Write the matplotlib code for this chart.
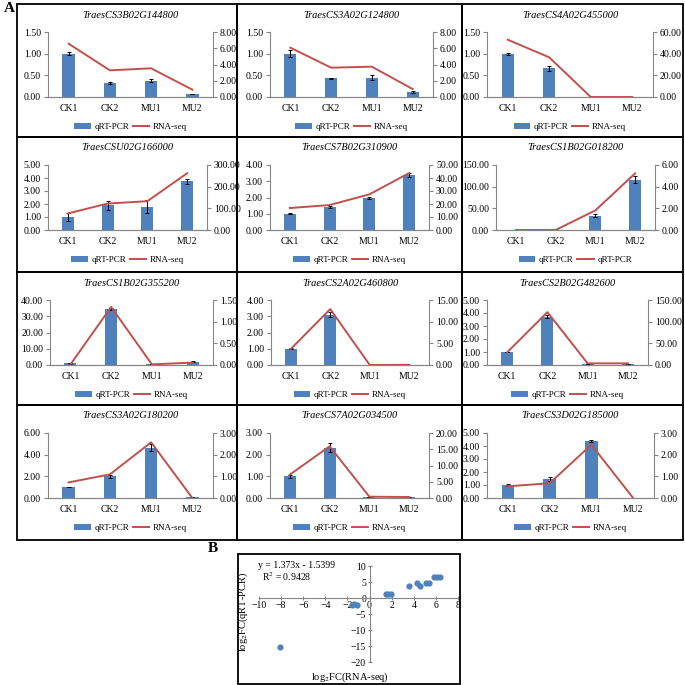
import numpy as np
import matplotlib.pyplot as plt
from matplotlib.patches import Rectangle, Patch
from matplotlib.lines import Line2D
from matplotlib.ticker import FormatStrFormatter

plt.rcParams['font.family'] = ['Liberation Serif', 'DejaVu Serif']
plt.rcParams['mathtext.fontset'] = 'stix'

# --- data ---
categories = ['CK1', 'CK2', 'MU1', 'MU2']
genes = ['TraesCS3B02G144800', 'TraesCS3A02G124800', 'TraesCS4A02G455000',
         'TraesCSU02G166000', 'TraesCS7B02G310900', 'TraesCS1B02G018200',
         'TraesCS1B02G355200', 'TraesCS2A02G460800', 'TraesCS2B02G482600',
         'TraesCS3A02G180200', 'TraesCS7A02G034500', 'TraesCS3D02G185000']

qpcr = [
    [1.00, 0.32, 0.38, 0.07],
    [1.00, 0.43, 0.45, 0.12],
    [1.00, 0.66, 0.00, 0.00],
    [1.00, 1.90, 1.80, 3.75],
    [1.00, 1.42, 1.98, 3.38],
    [1.00, 0.30, 33.0, 116.0],
    [1.00, 34.5, 0.80, 2.10],
    [1.00, 3.10, 0.00, 0.02],
    [1.00, 3.72, 0.10, 0.08],
    [1.00, 2.00, 4.65, 0.05],
    [1.00, 2.33, 0.05, 0.03],
    [1.00, 1.45, 4.42, 0.00],
]
qpcr_err = [
    [0.04, 0.03, 0.04, 0.01],
    [0.08, 0.01, 0.06, 0.03],
    [0.02, 0.05, 0.00, 0.00],
    [0.30, 0.35, 0.50, 0.20],
    [0.03, 0.04, 0.05, 0.10],
    [0.10, 0.05, 4.00, 8.00],
    [0.20, 0.80, 0.10, 0.30],
    [0.03, 0.15, 0.00, 0.01],
    [0.02, 0.10, 0.02, 0.02],
    [0.03, 0.12, 0.30, 0.01],
    [0.06, 0.22, 0.01, 0.01],
    [0.05, 0.15, 0.08, 0.00],
]
rnaseq = [
    [6.56, 3.28, 3.53, 0.90],
    [6.07, 3.61, 3.73, 0.98],
    [52.9, 36.6, 0.0, 0.0],
    [76.5, 122.0, 133.0, 262.0],
    [16.9, 19.2, 27.4, 43.8],
    [0.0, 0.0, 1.81, 5.23],
    [0.01, 1.34, 0.015, 0.055],
    [3.69, 12.9, 0.0, 0.05],
    [29.2, 122.0, 3.8, 3.8],
    [0.72, 1.09, 2.57, 0.0],
    [7.2, 15.9, 0.4, 0.3],
    [0.54, 0.68, 2.46, 0.0],
]
# (max, step) of left and right axes
left_axis = [(1.5, 0.5), (1.5, 0.5), (1.5, 0.5), (5, 1), (4, 1), (150, 50),
             (40, 10), (4, 1), (5, 1), (6, 2), (3, 1), (5, 1)]
right_axis = [(8, 2), (8, 2), (60, 20), (300, 100), (50, 10), (6, 2),
              (1.5, 0.5), (15, 5), (150, 50), (3, 1), (20, 5), (3, 1)]
line_labels = ['RNA-seq'] * 5 + ['qRT-PCR'] + ['RNA-seq'] * 6

# panel B
rna_fc = [-8.1, -1.6, -1.4, -1.1, 1.5, 1.7, 1.9, 3.6, 4.3, 4.6, 5.1, 5.4, 5.8, 6.1, 6.4]
qpcr_fc = [-15.2, -2.1, -2.0, -2.1, 1.2, 1.2, 1.2, 3.9, 4.6, 3.7, 4.6, 4.8, 6.5, 6.7, 6.6]

W = H = 685
BLUE = '#4F81BD'
RED = '#C0504D'
GREY = '#868686'


def fx(px):
    return px / W


def fy(py):
    return 1 - py / H


fig = plt.figure(figsize=(6.85, 6.85), dpi=100)

col_edges = [17, 237, 462, 683]
row_edges = [4, 137, 272, 405, 540]
# left / right spine of every plot area, in pixels
plot_lr = [(48, 213), (270, 433), (487, 653),
           (48, 207), (270, 429), (496, 655),
           (50, 213), (271, 429), (487, 648),
           (48, 213), (270, 429), (487, 654)]

for i, gene in enumerate(genes):
    r, c = divmod(i, 3)
    x0, x1 = col_edges[c], col_edges[c + 1]
    y0, y1 = row_edges[r], row_edges[r + 1]

    # cell border
    fig.add_artist(Rectangle((fx(x0), fy(y1)), (x1 - x0) / W, (y1 - y0) / H,
                             transform=fig.transFigure, fill=False,
                             edgecolor='black', lw=1.3))

    ax_l, ax_r = plot_lr[i]
    ax = fig.add_axes([fx(ax_l), fy(y0 + 93), (ax_r - ax_l) / W, 65 / H])
    x = np.arange(len(categories))
    ax.bar(x, qpcr[i], 0.3, color=BLUE, yerr=qpcr_err[i],
           error_kw=dict(ecolor='black', elinewidth=0.7, capsize=1.5, capthick=0.7))
    ax.set_xlim(-0.5, 3.5)
    lmax, lstep = left_axis[i]
    ax.set_ylim(0, lmax)
    ax.set_yticks(np.arange(0, lmax + lstep / 2, lstep))
    ax.yaxis.set_major_formatter(FormatStrFormatter('%.2f'))
    ax.set_xticks(x)
    ax.set_xticklabels(categories)

    ax2 = ax.twinx()
    ax2.plot(x, rnaseq[i], color=RED, lw=1.4)
    rmax, rstep = right_axis[i]
    ax2.set_ylim(0, rmax)
    ax2.set_yticks(np.arange(0, rmax + rstep / 2, rstep))
    ax2.yaxis.set_major_formatter(FormatStrFormatter('%.2f'))

    for a in (ax, ax2):
        for s in a.spines.values():
            s.set_color(GREY)
            s.set_linewidth(0.8)
        a.spines['top'].set_visible(False)
    ax.spines['right'].set_visible(False)
    ax2.spines['left'].set_visible(False)
    ax.tick_params(axis='y', direction='out', length=3, color=GREY, labelsize=7, pad=2)
    ax2.tick_params(axis='y', direction='out', length=3, color=GREY, labelsize=7, pad=2)
    ax.tick_params(axis='x', length=0, labelsize=7, pad=5)

    fig.text(fx((ax_l + ax_r) / 2), fy(y0 + 11), gene, style='italic',
             fontsize=7.5, ha='center', va='center')

    handles = [Patch(facecolor=BLUE), Line2D([], [], color=RED, lw=1.4)]
    fig.legend(handles, ['qRT-PCR', line_labels[i]], loc='center',
               bbox_to_anchor=(fx((ax_l + ax_r) / 2), fy(y0 + 123)), ncol=2,
               frameon=False, fontsize=6.5, handlelength=1.8, handleheight=0.6,
               handletextpad=0.4, columnspacing=0.4, borderaxespad=0)

fig.text(fx(4), fy(9), 'A', weight='bold', fontsize=11, va='center')

# --- panel B ---
fig.add_artist(Rectangle((fx(238), fy(684)), (460 - 238) / W, (684 - 554) / H,
                         transform=fig.transFigure, fill=False,
                         edgecolor='black', lw=1.3))
fig.text(fx(208), fy(548), 'B', weight='bold', fontsize=11, va='center')

axb = fig.add_axes([fx(259), fy(662), 199 / W, 96 / H])
axb.scatter(rna_fc, qpcr_fc, s=12, color=BLUE, zorder=3)
axb.set_xlim(-10, 8)
axb.set_ylim(-20, 10)
axb.set_xticks(np.arange(-10, 9, 2))
axb.set_yticks(np.arange(-20, 11, 5))
axb.spines['left'].set_position(('data', 0))
axb.spines['bottom'].set_position(('data', 0))
axb.spines['top'].set_visible(False)
axb.spines['right'].set_visible(False)
for s in ('left', 'bottom'):
    axb.spines[s].set_color(GREY)
    axb.spines[s].set_linewidth(0.8)
axb.tick_params(direction='inout', length=3, color=GREY, labelsize=7, pad=1)
axb.patch.set_visible(False)

fig.text(fx(258), fy(565), 'y = 1.373x - 1.5399', fontsize=7, va='center')
fig.text(fx(262), fy(577), 'R$^2$ = 0.9428', fontsize=7, va='center')
fig.text(fx(350), fy(677), 'log$_2$FC(RNA-seq)', fontsize=7.5, ha='center', va='center')
fig.text(fx(243), fy(612), 'log$_2$FC(qRT-PCR)', fontsize=7.5, ha='center',
         va='center', rotation=90)

fig.savefig('out.png', dpi=100)
